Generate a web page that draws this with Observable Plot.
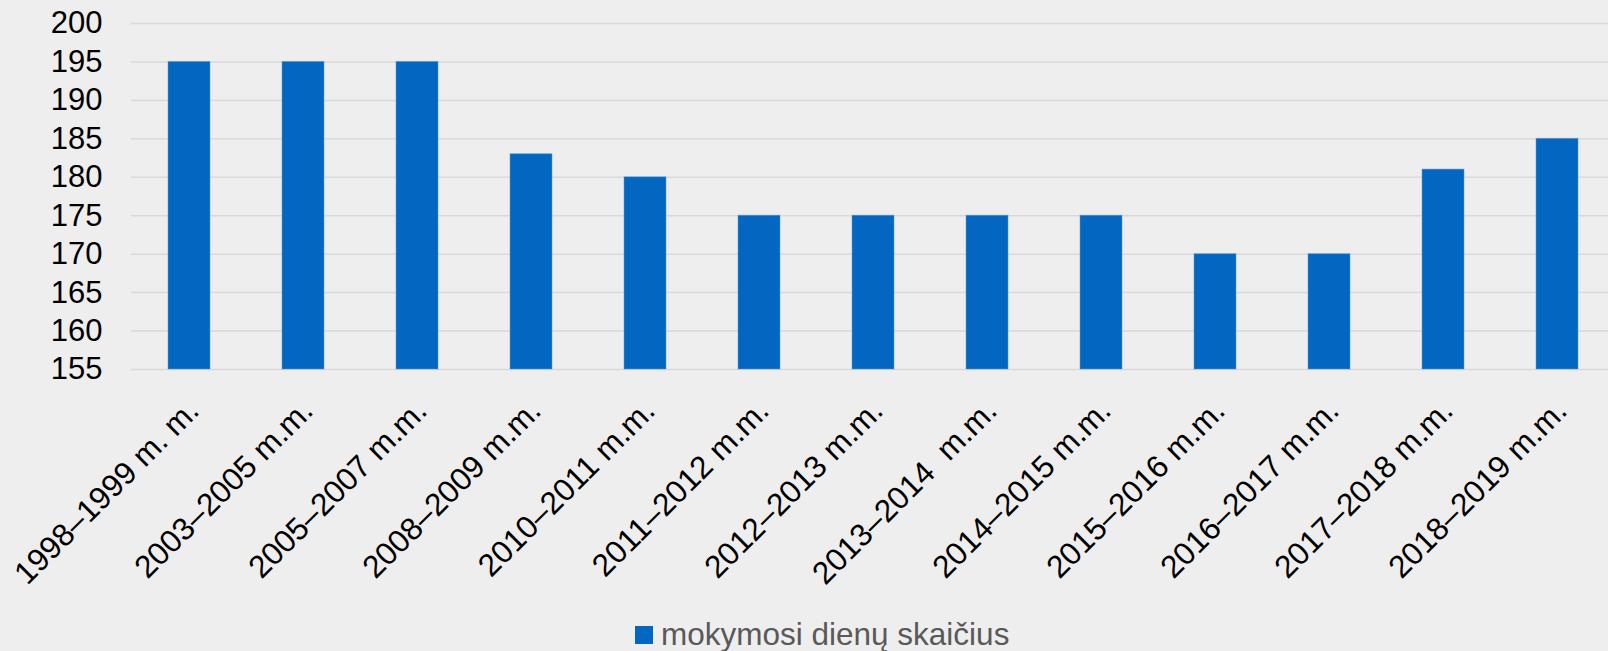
<!DOCTYPE html>
<html>
<head>
<meta charset="utf-8">
<script src="https://cdn.jsdelivr.net/npm/d3@7"></script>
<script src="https://cdn.jsdelivr.net/npm/@observablehq/plot@0.6"></script>
<style>
  html, body { margin: 0; padding: 0; background: #eeeeee; }
  #wrap { position: relative; width: 1608px; height: 651px; background: #eeeeee; overflow: hidden; }
  svg text { white-space: pre; }
  #legend-swatch { position: absolute; left: 635px; top: 626px; width: 18px; height: 18px; background: #0366c0; }
  #legend-text { position: absolute; left: 661px; top: 619px; font-family: "Liberation Sans", Arial, sans-serif; font-size: 31.5px; line-height: 30px; color: #595959; white-space: nowrap; }
</style>
</head>
<body>
<div id="wrap">
  <div id="chart"></div>
  <div id="legend-swatch"></div>
  <div id="legend-text"></div>
</div>
<script>
const categories = [
  "1998–1999 m. m.",
  "2003–2005 m.m.",
  "2005–2007 m.m.",
  "2008–2009 m.m.",
  "2010–2011 m.m.",
  "2011–2012 m.m.",
  "2012–2013 m.m.",
  "2013–2014  m.m.",
  "2014–2015 m.m.",
  "2015–2016 m.m.",
  "2016–2017 m.m.",
  "2017–2018 m.m.",
  "2018–2019 m.m."
];
const values = [195, 195, 195, 183, 180, 175, 175, 175, 175, 170, 170, 181, 185];
const yTicks = [155, 160, 165, 170, 175, 180, 185, 190, 195, 200];
const yDomain = [155, 200];
const seriesName = "mokymosi dienų skaičius";
const barColor = "#0366c0";

const data = categories.map((c, i) => ({category: c, value: values[i], base: yDomain[0]}));

const chart = Plot.plot({
  width: 1608,
  height: 600,
  marginTop: 23,
  marginBottom: 231,
  marginLeft: 131,
  marginRight: 0,
  style: {background: "#eeeeee", fontFamily: "'Liberation Sans', Arial, sans-serif", fontSize: "30px", color: "#000000", overflow: "visible"},
  x: {domain: categories, range: [131, 1615], paddingInner: 0.632, paddingOuter: 0.316, label: null},
  y: {domain: yDomain, label: null},
  marks: [
    Plot.ruleY(yTicks, {stroke: "#d9d9d9", strokeWidth: 1.5}),
    Plot.barY(data, {x: "category", y1: "base", y2: "value", fill: barColor, stroke: "#5b9bd5", strokeOpacity: 0.5, strokeWidth: 1}),
    Plot.axisY({ticks: yTicks, tickSize: 0, tickPadding: 29, fontSize: 31, label: null}),
    Plot.axisX({tickRotate: -45, tickSize: 0, tickPadding: 36, fontSize: 31.5, dx: 4, label: null})
  ]
});
document.getElementById("chart").appendChild(chart);
document.getElementById("legend-text").textContent = seriesName;
</script>
</body>
</html>
